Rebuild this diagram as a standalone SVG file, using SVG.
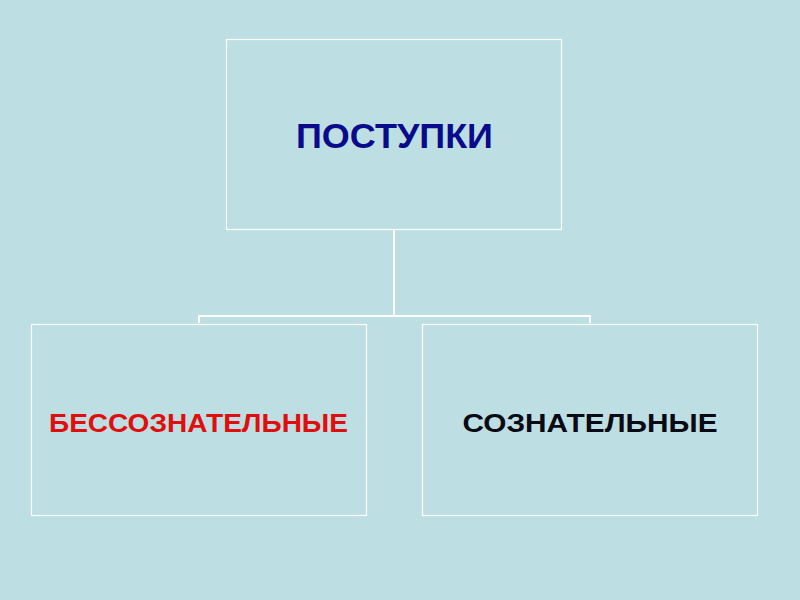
<svg xmlns="http://www.w3.org/2000/svg" width="800" height="600" viewBox="0 0 800 600">
<style>
.box{fill:none;stroke:#ffffff;stroke-width:1.2}
.conn{fill:none;stroke:#ffffff;stroke-width:2}
text{font-family:"Liberation Sans",Arial,sans-serif;font-weight:bold;text-anchor:middle}
</style>
<rect width="800" height="600" fill="#bddfe3"/>
<g id="connectors">
<path class="conn" d="M394,229 V316 M199,323 V316 H590 V323"/>
</g>
<g id="node-postupki">
<rect class="box" x="226.5" y="39.5" width="335" height="190"/>
<text x="394.5" y="148" font-size="35" fill="#0a0a8c" textLength="197" lengthAdjust="spacingAndGlyphs">ПОСТУПКИ</text>
</g>
<g id="node-bessoznatelnye">
<rect class="box" x="31.5" y="324.5" width="335" height="191"/>
<text x="198.5" y="432" font-size="26" fill="#e00e0c" textLength="299" lengthAdjust="spacingAndGlyphs">БЕССОЗНАТЕЛЬНЫЕ</text>
</g>
<g id="node-soznatelnye">
<rect class="box" x="422.5" y="324.5" width="335" height="191"/>
<text x="590" y="432" font-size="26" fill="#0a0a14" textLength="255" lengthAdjust="spacingAndGlyphs">СОЗНАТЕЛЬНЫЕ</text>
</g>
</svg>
